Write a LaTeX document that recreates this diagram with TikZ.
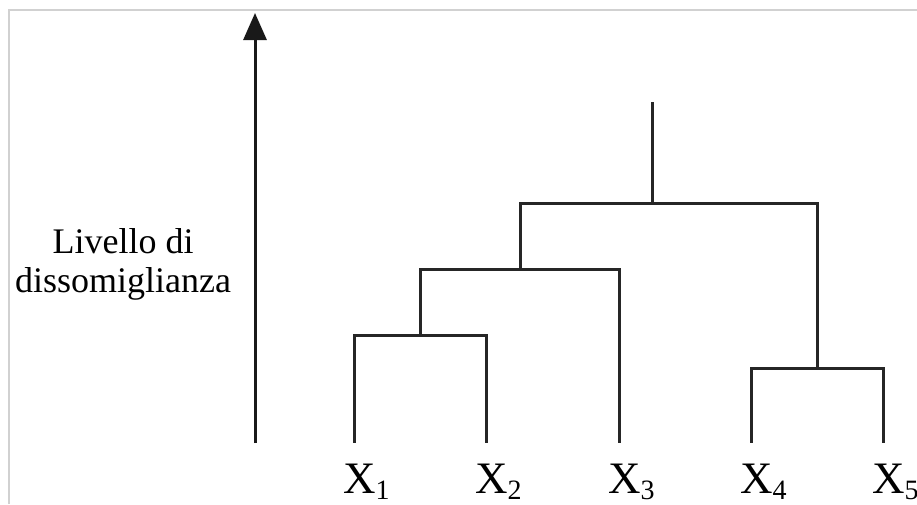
\documentclass[tikz,border=0pt]{standalone}
\usepackage{fontspec}
\setmainfont{Liberation Serif}
\usetikzlibrary{arrows.meta}
\newcommand{\leaflab}[1]{X\raisebox{-6pt}{\fontsize{28}{28}\selectfont #1}}
\begin{document}
\begin{tikzpicture}[x=1pt,y=-1pt,
  tree/.style={line width=3pt,line cap=rect,line join=miter,black!85},
  axis/.style={line width=3pt,black!90,-{Triangle[length=27pt,width=23pt]}},
  frame/.style={line width=1.4pt,black!18},
  leaflabel/.style={anchor=base west,inner sep=0pt,font=\fontsize{45}{45}\selectfont},
  axislabel/.style={anchor=base,inner sep=0pt,font=\fontsize{36}{39}\selectfont}]
  \useasboundingbox (0,0) rectangle (917,504);
  \begin{scope}
  \clip (0,0) rectangle (917,504);
  % frame
  \draw[frame] (9,504) -- (9,10) -- (917,10);
  % vertical axis
  \coordinate (axbot) at (255,443);
  \coordinate (axtop) at (255,13);
  \draw[axis] (axbot) -- (axtop);
  \node[axislabel] (lab1) at (123,253) {Livello di};
  \node[axislabel] (lab2) at (123,292) {dissomiglianza};
  % leaves
  \foreach \i/\x in {1/354,2/486,3/619,4/751,5/883}{
    \coordinate (l\i) at (\x,441);
    \node[leaflabel] (x\i) at (\x-11,493) {\leaflab{\i}};
  }
  % merge heights
  \coordinate (m12) at (420,335);
  \coordinate (m123) at (520,269);
  \coordinate (m45) at (817,368);
  \coordinate (mtop) at (652,203);
  \coordinate (root) at (652,103);
  % dendrogram
  \draw[tree] (l1) |- (m12) -| (l2);
  \draw[tree] (m12) |- (m123) -| (l3);
  \draw[tree] (l4) |- (m45) -| (l5);
  \draw[tree] (m123) |- (mtop) -| (m45);
  \draw[tree] (mtop) -- (root);
  \end{scope}
\end{tikzpicture}
\end{document}
